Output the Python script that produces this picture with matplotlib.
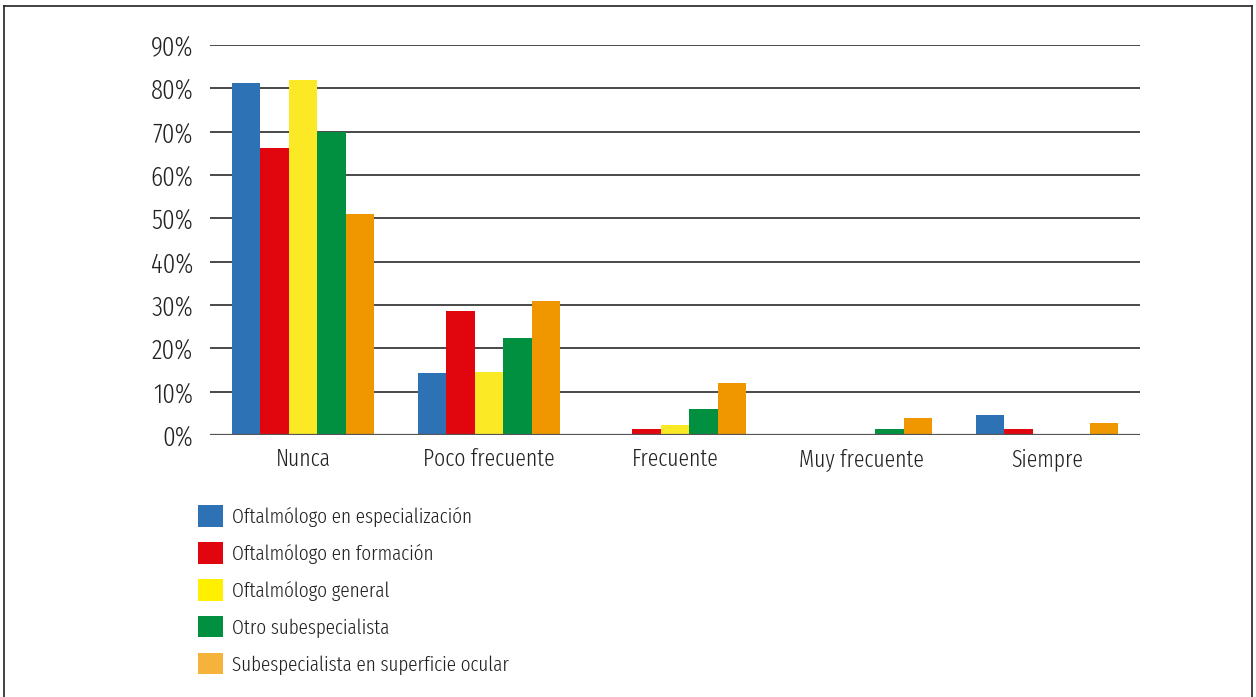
import matplotlib
matplotlib.use("Agg")
import matplotlib.pyplot as plt
from matplotlib.patches import Patch
from matplotlib.lines import Line2D
import numpy as np

plt.rcParams['font.family'] = ['Fira Sans Extra Condensed', 'DejaVu Sans']
plt.rcParams['font.weight'] = 300

categories = ["Nunca", "Poco frecuente", "Frecuente", "Muy frecuente", "Siempre"]
series_names = ["Oftalmólogo en especialización", "Oftalmólogo en formación",
                "Oftalmólogo general", "Otro subespecialista",
                "Subespecialista en superficie ocular"]
esp = [81.2, 14.3, 0.0, 0.0, 4.6]
form = [66.2, 28.6, 1.5, 0.0, 1.5]
gen = [81.9, 14.5, 2.2, 0.0, 0.0]
otro = [69.9, 22.4, 5.9, 1.5, 0.0]
sup = [51.0, 30.9, 11.9, 4.0, 2.8]
series = [esp, form, gen, otro, sup]
yticks = [0, 10, 20, 30, 40, 50, 60, 70, 80, 90]
ytick_labels = ["0%", "10%", "20%", "30%", "40%", "50%", "60%", "70%", "80%", "90%"]

bar_colors = ["#2E72B6", "#E1060E", "#FBE925", "#00903F", "#F09700"]
legend_colors = ["#2E72B6", "#E1060E", "#FFF000", "#00903F", "#F6B33B"]

W, H = 1256, 697
fig = plt.figure(figsize=(W / 100, H / 100), dpi=100)
ax = fig.add_axes([210 / W, 1 - 435 / H, 930 / W, 390 / H])

x = np.arange(len(categories))
bw = 0.153
for i, vals in enumerate(series):
    ax.bar(x + (i - 2) * bw, vals, width=bw, color=bar_colors[i], zorder=3,
           linewidth=0)

ax.set_xlim(-0.5, 4.5)
ax.set_ylim(0, 90)
ax.set_yticks(yticks)
ax.set_yticklabels(ytick_labels, fontsize=19.5, color="#222222")
ax.set_xticks(x)
ax.set_xticklabels(categories, fontsize=17, color="#222222")
ax.tick_params(axis='both', length=0)
ax.tick_params(axis='y', pad=12)
ax.tick_params(axis='x', pad=9)
for s in ax.spines.values():
    s.set_visible(False)
ax.yaxis.grid(True, color="#2a2a2a", linewidth=1.2, zorder=1)
ax.set_axisbelow(True)
ax.axhline(0, color="#555555", linewidth=1.6, zorder=4)

handles = [Patch(facecolor=c, edgecolor='none') for c in legend_colors]
fig.legend(handles, series_names, loc='upper left',
           bbox_to_anchor=(190 / W, 1 - 497 / H), frameon=False,
           fontsize=15, handlelength=1.2, handleheight=1.2,
           handletextpad=0.43, labelspacing=0.73, labelcolor="#222222",
           borderaxespad=0)

# frame around the figure
fig.add_artist(Line2D([4 / W, 4 / W], [0, 1 - 6 / H], transform=fig.transFigure, color="#222222", lw=1.2))
fig.add_artist(Line2D([4 / W, 1252 / W], [1 - 6 / H, 1 - 6 / H], transform=fig.transFigure, color="#222222", lw=1.2))
fig.add_artist(Line2D([1252 / W, 1252 / W], [0, 1 - 6 / H], transform=fig.transFigure, color="#222222", lw=1.2))

fig.savefig("out.png", dpi=100)
